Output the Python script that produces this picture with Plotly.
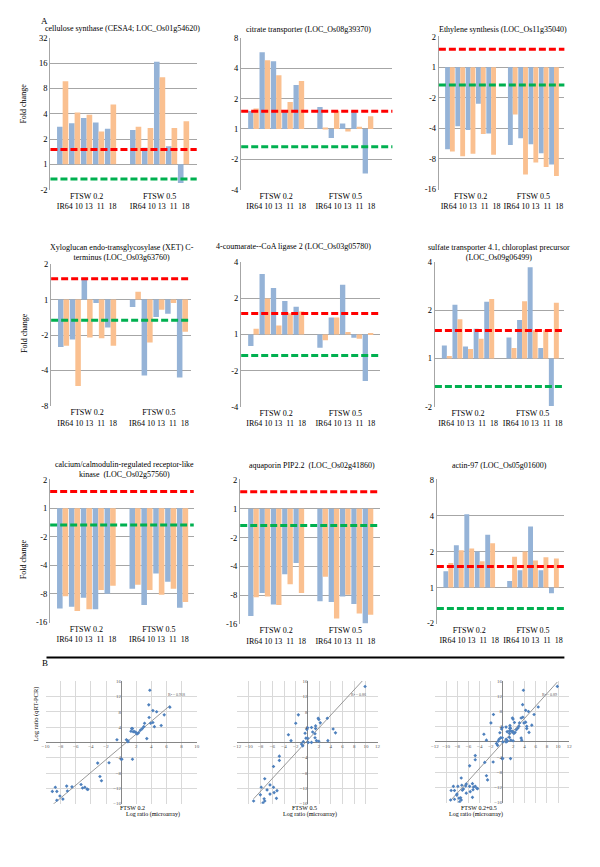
import numpy as np
import plotly.graph_objects as go

W, H = 600, 867
FONT = "Liberation Serif, Times New Roman, serif"

# ---------------- data (log2 fold change) ----------------
GENOTYPES = ["IR64", "10", "13", "11", "18"]
CONDITIONS = ["FTSW 0.2", "FTSW 0.5"]
FOLD_THRESHOLD = 1.5

titles = [
    "cellulose synthase (CESA4; LOC_Os01g54620)",
    "citrate transporter (LOC_Os08g39370)",
    "Ethylene synthesis (LOC_Os11g35040)",
    "Xyloglucan endo-transglycosylase (XET) C-<br>terminus (LOC_Os03g63760)",
    "4-coumarate--CoA ligase 2 (LOC_Os03g05780)",
    "sulfate transporter 4.1, chloroplast precursor<br>(LOC_Os09g06499)",
    "calcium/calmodulin-regulated receptor-like<br>kinase  (LOC_Os02g57560)",
    "aquaporin PIP2.2  (LOC_Os02g41860)",
    "actin-97 (LOC_Os05g01600)",
]

cesa4_micro = [1.49, 1.62, 1.83, 1.65, 1.41, 1.36, 0.65, 4.06, 0.71, -0.74]
cesa4_qpcr = [3.28, 2.05, 1.96, 1.30, 2.37, 1.49, 1.44, 3.44, 1.44, 1.70]
citrate_micro = [0.59, 2.53, 2.23, 0.59, 1.45, 0.72, -0.30, 0.18, 0.59, -1.47]
citrate_qpcr = [0.67, 2.26, 1.77, 0.89, 1.58, 0.03, 0.59, -0.09, 0.07, 0.42]
ethylene_micro = [-2.69, -1.94, -2.06, -1.20, -2.17, -2.55, -2.33, -2.53, -2.82, -3.19]
ethylene_qpcr = [-2.76, -2.92, -2.84, -2.19, -2.87, -1.55, -3.52, -3.12, -3.27, -3.57]
xet_micro = [-1.34, -1.13, 0.56, -0.10, -0.79, -0.21, -2.14, -0.49, -0.40, -2.20]
xet_qpcr = [-1.30, -2.44, -1.07, -1.09, -1.30, 0.22, -1.21, -0.29, -0.10, -0.91]
coa_micro = [-0.32, 1.68, 1.29, 0.93, 0.77, -0.37, 0.47, 1.38, -0.09, -1.29]
coa_qpcr = [0.16, 1.00, 0.25, 0.59, 0.64, -0.16, 0.47, 0.07, -0.12, 0.04]
sulfate_micro = [0.27, 1.12, 0.25, 0.62, 1.18, 0.44, 0.80, 1.90, 0.22, -0.99]
sulfate_qpcr = [0.05, 0.82, 0.20, 0.41, 1.24, 0.22, 1.19, 0.59, 0.59, 1.16]
cam_micro = [-3.51, -3.45, -3.13, -3.54, -2.99, -2.82, -3.39, -2.28, -2.57, -3.48]
cam_qpcr = [-3.08, -3.60, -3.54, -2.86, -2.71, -2.68, -2.86, -3.03, -2.82, -3.28]
pip_micro = [-3.72, -2.92, -3.32, -2.27, -1.88, -3.21, -3.23, -3.04, -3.30, -3.97]
pip_qpcr = [-3.07, -3.04, -3.34, -2.62, -2.92, -2.36, -3.80, -2.98, -3.63, -3.67]
actin_micro = [0.45, 1.18, 2.04, 1.00, 1.47, 0.18, 0.48, 1.70, 0.48, -0.16]
actin_qpcr = [0.68, 1.04, 1.09, 0.73, 1.23, 0.86, 1.00, 0.75, 0.84, 0.81]

micro_series = [cesa4_micro, citrate_micro, ethylene_micro, xet_micro, coa_micro,
                sulfate_micro, cam_micro, pip_micro, actin_micro]
qpcr_series = [cesa4_qpcr, citrate_qpcr, ethylene_qpcr, xet_qpcr, coa_qpcr,
               sulfate_qpcr, cam_qpcr, pip_qpcr, actin_qpcr]
y_ranges = [(-1, 5), (-2, 3), (-4, 1), (-3, 1), (-2, 2), (-1, 2), (-4, 1), (-4, 1), (-1, 3)]

# scatter: log ratio microarray (x) vs qRT-PCR (y)
ftsw02_micro = [3.8, 3.66, 4.2, 4.7, 6.45, 5.7, 3.7, 4.2, 3.9, 4.4, 5.3, 3.1, 3.0, 2.8, 2.55,
                2.3, 2.0, 1.6, 1.3, 1.4, 1.8, 1.5, 2.1, 0.7, 0.9, -0.55, 0.9, 3.4, 0.1, 0.0,
                1.5, -3.1, -1.6, -2.8, -2.6, -5.3, -5.1, -4.8, -4.5, -4.4, -6.5, -7.2, -7.1,
                -8.7, -8.5, -9.1, -8.1, -7.7, -8.5]
ftsw02_qpcr = [13.6, 9.8, 8.3, 8.0, 9.2, 7.2, 6.5, 5.2, 5.0, 4.1, 4.4, 5.0, 4.1, 3.6, 3.2,
               2.5, 2.5, 2.8, 2.9, 3.6, 2.8, 3.6, 2.2, 0.7, 0.4, 0.7, 0.2, 1.0, -4.4, -4.4,
               -4.4, -5.4, -5.3, -8.9, -10.0, -11.0, -11.9, -11.7, -12.2, -12.3, -11.6, -11.4, -12.7,
               -11.7, -12.8, -12.8, -14.0, -14.8, -15.1]
ftsw05_micro = [9.86, -1.55, -2.0, 1.84, 1.95, 3.4, 2.2, -3.25, -2.8, -0.4, 0.03, -0.1, 0.7,
                1.4, 1.4, 1.3, 0.9, 0.03, -0.25, 1.3, 1.55, 1.95, 3.5, 4.4, 4.8, -0.7, -1.0,
                -0.8, 0.14, 0.7, -4.8, -4.8, -5.8, -7.3, -7.9, -6.4, -5.8, -5.2, -5.7, -6.4,
                -6.9, -8.05, -7.4, -7.3, -7.6, -5.3, -9.2]
ftsw05_qpcr = [14.6, 7.2, 5.0, 6.3, 6.0, 6.3, 5.1, 2.0, 0.45, 2.4, 3.8, 3.4, 3.9, 4.3, 3.6,
               2.25, 2.7, 1.1, 1.1, 1.2, 0.45, 0.3, 0.45, 3.5, 2.5, 0.2, -0.45, -0.9, 0.0,
               0.0, -3.6, -4.7, -6.3, -9.5, -11.7, -11.1, -11.7, -12.6, -13.1, -13.5, -12.4,
               -13.7, -14.7, -15.3, -15.8, -14.6, -15.3]
scatter_labels = ["FTSW 0.2", "FTSW 0.5", "FTSW 0.2+0.5"]
r2_labels = ["R² = 0.918", "R² = 0.86", "R² = 0.89"]

# ---------------- layout geometry (pixels) ----------------
# left, right, top, bottom of plot area; bar block start/end
bar_boxes = [
    (47, 195, 33, 187, 53.3, 187.7),
    (240, 393, 33, 187, 246.7, 374),
    (440, 567, 31.7, 186.7, 446, 561.7),
    (47.7, 189, 261.7, 406, 54.3, 186.5),
    (240, 380, 260, 406.7, 246.7, 374),
    (436, 567, 260, 406.7, 442.7, 561.7),
    (46.7, 192, 480, 625, 53.3, 186.7),
    (239, 380, 480, 626.7, 246.7, 374),
    (438, 567, 480, 626, 444.3, 561.7),
]
title_pos = [(120, 23.5), (308, 25), (505, 24.5), (119, 250), (293, 244), (501, 250),
             (122, 470), (312, 466), (501, 466)]
scatter_boxes = [(42, 195, 684, 808), (236, 378, 684, 808), (436, 572, 684, 807)]
scatter_xr = [(-10, 10), (-12, 12), (-12, 12)]


def px_x(x):
    return x / W


def px_y(y):
    return 1 - y / H


def ax_ids(n):
    s = "" if n == 1 else str(n)
    return "x" + s, "y" + s, "xaxis" + s, "yaxis" + s


fig = go.Figure()
annotations = []
shapes = []
layout_axes = {}

GAP = 1.1
xpos = [i for i in range(5)] + [4.5 + GAP + 0.5 + i for i in range(5)]
span_lo, span_hi = -0.5, xpos[-1] + 0.5
thr = float(np.log2(FOLD_THRESHOLD))

for k in range(9):
    n = k + 1
    L, R, T, B, bs, be = bar_boxes[k]
    u = (span_hi - span_lo) / (be - bs)
    xr = [span_lo - (bs - L) * u, span_hi + (R - be) * u]
    ymin, ymax = y_ranges[k]
    tv = list(range(ymin, ymax + 1))
    tt = [str(2 ** v) if v >= 0 else "-" + str(2 ** (-v)) for v in tv]
    xa, ya, xk, yk = ax_ids(n)
    fig.add_trace(go.Bar(x=xpos, y=micro_series[k], marker=dict(color="#95B3D7", line=dict(width=0)),
                         xaxis=xa, yaxis=ya, showlegend=False, name="microarray"))
    fig.add_trace(go.Bar(x=xpos, y=qpcr_series[k], marker=dict(color="#FAC090", line=dict(width=0)),
                         xaxis=xa, yaxis=ya, showlegend=False, name="qRT-PCR"))
    gcent = [sum(xpos[:5]) / 5, sum(xpos[5:]) / 5]
    layout_axes[xk] = dict(
        domain=[px_x(L), px_x(R)], range=xr, anchor=ya, showgrid=False, zeroline=False,
        showline=False, ticks="", tickvals=gcent,
        ticktext=[c + "<br>" + "IR64 10 13  11  18" for c in CONDITIONS],
        tickfont=dict(family=FONT, size=8, color="#000"), fixedrange=True)
    layout_axes[yk] = dict(
        domain=[px_y(B), px_y(T)], range=[ymin - 0.01, ymax + 0.01], anchor=xa,
        tickvals=tv, ticktext=tt, showgrid=True, gridcolor="#a6a6a6", gridwidth=1.3,
        zeroline=False, showline=True, linecolor="#a6a6a6", linewidth=1.3, ticks="",
        tickfont=dict(family=FONT, size=8.5, color="#000"), fixedrange=True)
    for yv, col in [(thr, "#FF0000"), (-thr, "#00B050")]:
        shapes.append(dict(type="line", xref=f"{xa} domain", yref=ya, x0=0, x1=1, y0=yv, y1=yv,
                           line=dict(color=col, width=3, dash="7px,3px")))
    tx, ty = title_pos[k]
    annotations.append(dict(text=titles[k], x=px_x(tx), y=px_y(ty), xref="paper", yref="paper",
                            showarrow=False, xanchor="center", yanchor="middle",
                            font=dict(family=FONT, size=8, color="#000")))

for yy in [100, 332, 561]:
    annotations.append(dict(text="Fold change", x=px_x(20), y=px_y(yy), xref="paper", yref="paper",
                            showarrow=False, textangle=-90, xanchor="center", yanchor="middle",
                            font=dict(family=FONT, size=8, color="#000")))

annotations.append(dict(text="A", x=px_x(35), y=px_y(9), xref="paper", yref="paper", showarrow=False,
                        font=dict(family=FONT, size=9, color="#000")))
annotations.append(dict(text="B", x=px_x(36), y=px_y(673), xref="paper", yref="paper", showarrow=False,
                        font=dict(family=FONT, size=9, color="#000")))
shapes.append(dict(type="line", xref="paper", yref="paper", x0=px_x(43), x1=px_x(567),
                   y0=px_y(660), y1=px_y(660), line=dict(color="#000", width=2)))

# ---------------- scatter panels ----------------
sc_x = [ftsw02_micro, ftsw05_micro, ftsw02_micro + ftsw05_micro]
sc_y = [ftsw02_qpcr, ftsw05_qpcr, ftsw02_qpcr + ftsw05_qpcr]
for j in range(3):
    n = 10 + j
    L, R, T, B = scatter_boxes[j]
    xa, ya, xk, yk = ax_ids(n)
    xs, ys = np.array(sc_x[j]), np.array(sc_y[j])
    slope, icpt = np.polyfit(xs, ys, 1)
    lx = np.array([xs.min(), xs.max()])
    fig.add_trace(go.Scatter(x=lx, y=slope * lx + icpt, mode="lines", line=dict(color="#7f7f7f", width=0.8),
                             xaxis=xa, yaxis=ya, showlegend=False, hoverinfo="skip"))
    fig.add_trace(go.Scatter(x=xs, y=ys, mode="markers",
                             marker=dict(symbol="diamond", size=2.8, color="#4F81BD"),
                             xaxis=xa, yaxis=ya, showlegend=False))
    x0, x1 = scatter_xr[j]
    xtv = [v for v in range(x0, x1 + 1, 2) if v != 0]
    ytv = [v for v in range(-16, 17, 4) if v != 0]
    layout_axes[xk] = dict(
        domain=[px_x(L), px_x(R)], range=[x0, x1], anchor="free", position=px_y((T + B) / 2),
        tickvals=xtv, showgrid=True, gridcolor="#d9d9d9", gridwidth=0.7,
        zeroline=True, zerolinecolor="#868686", zerolinewidth=1, showline=False, ticks="",
        tickfont=dict(family=FONT, size=5, color="#595959"), fixedrange=True)
    layout_axes[yk] = dict(
        domain=[px_y(B), px_y(T)], range=[-16, 16], anchor="free", position=px_x((L + R) / 2),
        tickvals=ytv, showgrid=True, gridcolor="#d9d9d9", gridwidth=0.7,
        zeroline=True, zerolinecolor="#868686", zerolinewidth=1, showline=False, ticks="",
        tickfont=dict(family=FONT, size=5, color="#595959"), fixedrange=True)
    annotations.append(dict(text=r2_labels[j], x=px_x(R - 10), y=px_y(T + 18), xref="paper", yref="paper",
                            showarrow=False, xanchor="right", font=dict(family=FONT, size=4, color="#595959")))
    cx = (L + R) / 2
    annotations.append(dict(text=scatter_labels[j], x=px_x(cx - 3), y=px_y(817), xref="paper", yref="paper",
                            showarrow=False, font=dict(family=FONT, size=6, color="#000")))
    annotations.append(dict(text="Log ratio (microarray)", x=px_x(cx + 3), y=px_y(824.5), xref="paper",
                            yref="paper", showarrow=False, font=dict(family=FONT, size=6, color="#000")))

annotations.append(dict(text="Log ratio (qRT-PCR)", x=px_x(26), y=px_y(747), xref="paper", yref="paper",
                        showarrow=False, textangle=-90, font=dict(family=FONT, size=6.5, color="#000")))

fig.update_layout(width=W, height=H, margin=dict(l=0, r=0, t=0, b=0), paper_bgcolor="white",
                  plot_bgcolor="white", barmode="group", bargap=0.06, bargroupgap=0,
                  annotations=annotations, shapes=shapes, showlegend=False, **layout_axes)
fig.write_html("out.html", config={"displayModeBar": False},
               post_script="document.body.style.margin='0px';")
